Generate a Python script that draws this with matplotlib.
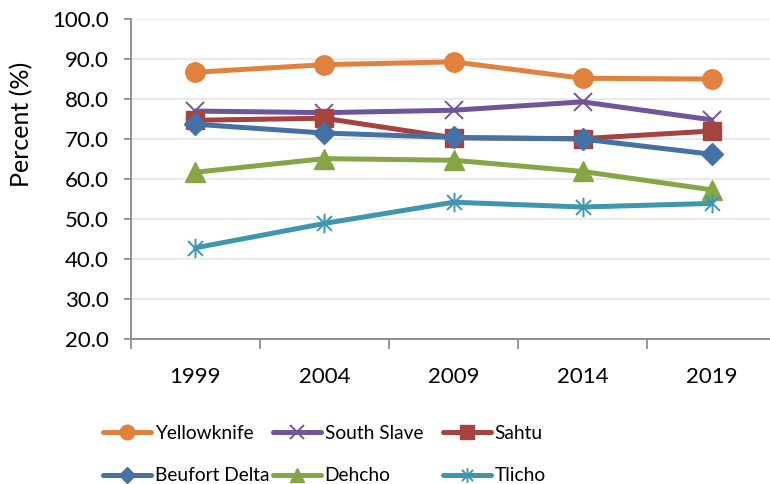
import numpy as np
import matplotlib
matplotlib.use("Agg")
import matplotlib.pyplot as plt
from matplotlib.path import Path

plt.rcParams['font.family'] = ['Lato', 'DejaVu Sans']

# Survey years and regional percentages
years = ["1999", "2004", "2009", "2014", "2019"]
yellowknife = [86.7, 88.6, 89.3, 85.2, 85.0]
south_slave = [77.0, 76.6, 77.2, 79.3, 74.8]
sahtu = [74.7, 75.2, 70.3, 70.1, 72.0]
beufort_delta = [73.7, 71.5, 70.4, 70.0, 66.2]
dehcho = [61.7, 65.1, 64.7, 61.9, 57.3]
tlicho = [42.8, 48.9, 54.2, 53.0, 53.9]

# Excel-style star: x with a vertical stroke
star = Path([(-1, -1), (1, 1), (-1, 1), (1, -1), (0, -1.3), (0, 1.3)],
            [Path.MOVETO, Path.LINETO, Path.MOVETO, Path.LINETO, Path.MOVETO, Path.LINETO])

series = [
    ("Yellowknife", yellowknife, "#E0823D", "o", 14),
    ("South Slave", south_slave, "#70559A", "x", 13),
    ("Sahtu", sahtu, "#A5433F", "s", 13),
    ("Beufort Delta", beufort_delta, "#4471A6", "D", 11),
    ("Dehcho", dehcho, "#86A545", "^", 14),
    ("Tlicho", tlicho, "#3E97AE", star, 14),
]

fig = plt.figure(figsize=(7.7, 4.84), dpi=100)
ax = fig.add_axes([0.170, 0.2996, 0.838, 0.661])

x = np.arange(len(years))
handles = []
for name, vals, col, mk, ms in series:
    h, = ax.plot(x, vals, color=col, lw=3.6, marker=mk, markersize=ms,
                 markerfacecolor=col, markeredgecolor=col,
                 markeredgewidth=1.4 if mk in ("x",) or mk is star else 1.0,
                 label=name, solid_capstyle='round')
    handles.append(h)

ax.set_ylim(20, 100)
ax.set_yticks(np.arange(20, 101, 10))
ax.set_yticklabels([f"{v:.1f}" for v in range(20, 101, 10)])
ax.set_xlim(-0.5, len(years) - 0.5)
ax.set_xticks(np.arange(-0.5, len(years), 1.0))
ax.set_xticklabels([])
ax.set_xticks(x, minor=True)
ax.set_xticklabels(years, minor=True)
ax.tick_params(axis='x', which='minor', length=0, pad=20, labelsize=16)
ax.tick_params(axis='x', which='major', length=7, width=1.2, color='#888888')
ax.tick_params(axis='y', length=5, width=1.2, color='#888888', labelsize=16, pad=11)

ax.yaxis.grid(True, color='#EAEAEA', lw=1.5)
ax.set_axisbelow(True)
for s in ("top", "right"):
    ax.spines[s].set_visible(False)
for s in ("left", "bottom"):
    ax.spines[s].set_color('#888888')
    ax.spines[s].set_linewidth(1.3)

ax.set_ylabel("Percent (%)", fontsize=18)
ax.yaxis.set_label_coords(-0.152, 0.672)

# legend as three evenly spaced columns of two entries each
col_x = [103, 273, 443]
for c in range(3):
    pair = [c, c + 3]
    fig.legend([handles[i] for i in pair], [series[i][0] for i in pair],
               loc='upper left', bbox_to_anchor=(col_x[c] / 770, 1 - 425 / 484),
               frameon=False, fontsize=13.8, handlelength=2.5, borderpad=0,
               borderaxespad=0, handletextpad=0.2, labelspacing=1.32,
               markerscale=0.75)

fig.savefig("out.png", dpi=100)
